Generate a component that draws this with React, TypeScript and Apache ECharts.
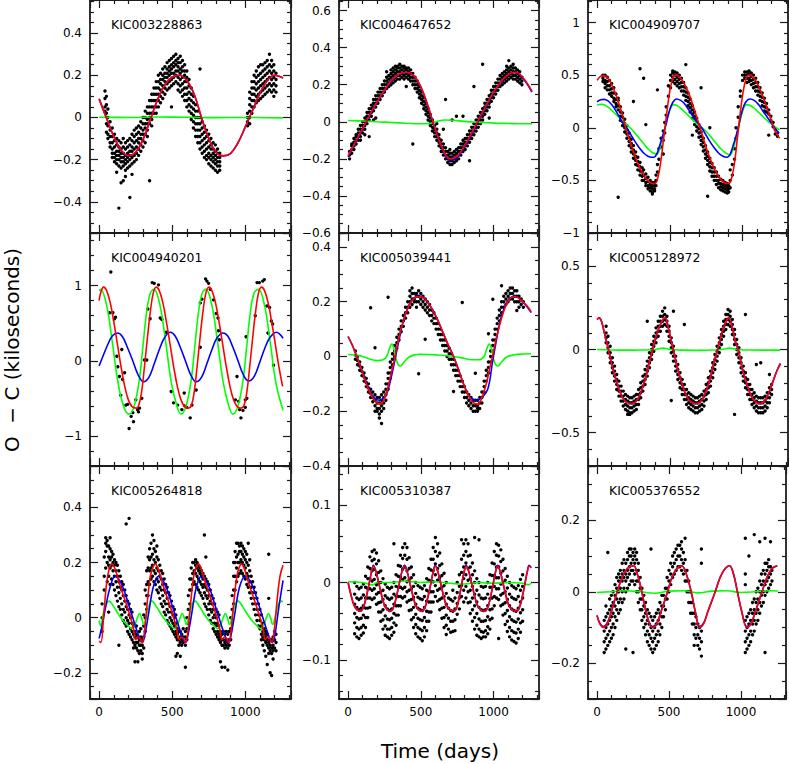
import React, { useEffect, useRef } from "react";
import * as echarts from "echarts";

// ---------- panel names ----------
const NAMES = ["KIC003228863", "KIC004647652", "KIC004909707", "KIC004940201", "KIC005039441", "KIC005128972", "KIC005264818", "KIC005310387", "KIC005376552"];
const X_TITLE = "Time (days)";
const Y_TITLE = "O  \u2212 C (kiloseconds)";

// ---------- Panel 1: KIC003228863 ----------
const P1_RED = [[0,.088],[50,-.003],[100,-.09],[150,-.155],[200,-.181],[250,-.165],[300,-.105],[350,-.01],[400,.085],[450,.155],[500,.192],[550,.2],[600,.175],[650,.11],[700,0],[750,-.1],[800,-.165],[850,-.182],[900,-.17],[950,-.12],[1000,-.045],[1050,.035],[1100,.115],[1150,.175],[1200,.2],[1258,.187]];
const P1_BLUE = [[0,.088],[50,-.003],[100,-.09],[150,-.155],[200,-.181],[250,-.165],[300,-.105],[350,-.01],[400,.085],[450,.155],[500,.192],[550,.2],[600,.175],[650,.11],[700,0],[750,-.1],[800,-.165],[850,-.182],[900,-.17],[950,-.12],[1000,-.045],[1050,.035],[1100,.115],[1150,.175],[1200,.2],[1258,.187]];
const P1_GREEN = [[0,.001],[200,0],[400,.002],[600,.001],[800,-.001],[1000,0],[1258,-.002]];
const P1_DOTS = [
[40,.125,.09,.05,.03],[50,.1,.06,.02,-.03,-.07],[60,.04,0,-.04,-.08,-.1],[75,-.02,-.06,-.09,-.12,-.14],
[90,-.05,-.09,-.12,-.15,-.17,-.19],[105,-.08,-.11,-.14,-.17,-.19,-.21],[120,-.1,-.13,-.16,-.18,-.2,-.22,-.26],
[135,-.11,-.14,-.16,-.18,-.2,-.23,-.43],[150,-.12,-.15,-.17,-.19,-.21,-.24,-.31],[165,-.1,-.14,-.17,-.19,-.21,-.23,-.3],
[180,-.12,-.15,-.18,-.2,-.22,-.25,-.28],[195,-.11,-.14,-.17,-.19,-.21,-.24],[210,-.1,-.13,-.16,-.18,-.2,-.23,-.38],
[225,-.08,-.11,-.14,-.16,-.19,-.22,-.27],[240,-.06,-.09,-.12,-.15,-.18,-.21],[255,-.05,-.08,-.11,-.14,-.17,-.2],
[270,-.04,-.07,-.1,-.12,-.15,-.18],[285,-.02,-.05,-.08,-.1,-.13,-.16],[300,0,-.03,-.06,-.08,-.11,-.14],
[315,.03,0,-.03,-.05,-.08,-.12],[330,.05,.02,-.01,-.03,-.06,-.09],[345,.08,.05,.02,0,-.03,-.3],
[360,.11,.08,.05,.02,-.01,-.04],[375,.14,.11,.08,.05,.02],[390,.17,.14,.11,.08,.05,.02],[405,.2,.17,.14,.11,.08,.05],
[420,.21,.18,.16,.13,.1,.07],[435,.23,.2,.18,.15,.12,.09],[450,.24,.21,.19,.17,.14,.11],[465,.26,.23,.21,.19,.16,.13],
[480,.27,.24,.22,.2,.17,.14],[495,.28,.25,.23,.21,.18,.15,.05],[510,.29,.26,.24,.21,.19,.16],[525,.3,.27,.25,.22,.2,.17],
[540,.28,.26,.24,.22,.19,.16,.13],[555,.29,.26,.23,.21,.18,.15,.12],[570,.27,.24,.22,.19,.16,.13,.1],
[585,.25,.22,.2,.17,.14,.11,.08],[600,.22,.19,.17,.14,.11,.08,.05],[615,.18,.15,.12,.09,.06,.03],
[630,.14,.11,.08,.05,.02,-.01],[645,.1,.07,.04,.01,-.02,-.05],[660,.06,.03,0,-.03,-.06,-.09],
[675,.03,0,-.03,-.06,-.09,-.12],[690,.23,0,-.03,-.06,-.09,-.12,-.15],[705,-.02,-.05,-.08,-.11,-.14,-.17],
[720,-.04,-.07,-.1,-.13,-.16,-.19],[735,-.06,-.09,-.12,-.15,-.18,-.2],[750,-.08,-.11,-.14,-.17,-.19,-.22],
[765,-.1,-.13,-.15,-.18,-.2,-.23],[780,-.12,-.15,-.17,-.19,-.21,-.24],[795,-.13,-.16,-.18,-.2,-.22,-.25],
[810,-.15,-.17,-.19,-.21,-.23,-.26],[825,-.17,-.19,-.21,-.23,-.25],
[1015,-.04,-.02,0,.02],[1030,0,.03,.06,.09,.12,-.03],[1045,.02,.05,.08,.11,.14,.17],[1060,.05,.08,.11,.14,.17,.2],
[1075,.07,.1,.13,.16,.19,.22],[1090,.08,.11,.14,.17,.2,.24],[1105,.09,.12,.15,.18,.21,.25],[1120,.1,.13,.16,.19,.22,.25],
[1135,.11,.14,.17,.2,.23,.26],[1150,.12,.15,.18,.21,.24,.27],[1165,.13,.16,.19,.22,.25,.3],[1180,.12,.15,.18,.21,.24,.27],
[1195,.1,.13,.16,.19,.22,.25],[1210,.12,.15,.18,.21]
];

// ---------- Panel 2: KIC004647652 ----------
const P2_RED = [[0,-.183],[50,-.11],[100,-.035],[150,.04],[200,.11],[250,.17],[300,.225],[350,.258],[400,.267],[450,.25],[500,.19],[550,.085],[600,-.04],[650,-.145],[700,-.2],[750,-.185],[800,-.13],[850,-.06],[900,.015],[950,.09],[1000,.16],[1050,.215],[1100,.255],[1150,.267],[1200,.24],[1264,.165]];
const P2_BLUE = [[0,-.19],[50,-.115],[100,-.04],[150,.036],[200,.106],[250,.166],[300,.222],[350,.256],[400,.266],[450,.248],[500,.186],[550,.08],[600,-.046],[650,-.152],[700,-.208],[750,-.192],[800,-.136],[850,-.066],[900,.01],[950,.085],[1000,.156],[1050,.212],[1100,.253],[1150,.266],[1200,.236],[1264,.16]];
const P2_GREEN = [[0,.007],[100,.004],[200,0],[300,-.004],[400,-.008],[500,-.011],[570,-.008],[620,.004],[660,.01],[720,.008],[800,.002],[900,-.003],[1000,-.007],[1100,-.009],[1200,-.011],[1264,-.011]];
const P2_DOTS = [
[10,-.2,-.18,-.16],[25,-.17,-.15,-.13,-.12],[40,-.15,-.13,-.11,-.09],[55,-.12,-.1,-.08,-.07],[70,-.1,-.08,-.06,-.04],
[85,-.08,-.06,-.04,-.02,-.1],[100,-.06,-.04,-.02,0],[115,-.04,-.02,0,.02,-.07],[130,-.01,.01,.03,.05],
[145,.01,.03,.05,.07,-.08],[160,.03,.05,.07,.09],[175,.06,.08,.1,.12,.01],[190,.08,.1,.12,.14,.02],
[205,.1,.12,.14,.16],[220,.12,.14,.16,.18],[235,.14,.16,.18,.2],[250,.16,.18,.2,.22],[265,.18,.2,.22,.24,.27],
[280,.19,.21,.23,.25],[295,.2,.22,.24,.26,.28],[310,.21,.23,.25,.27,.29],[325,.22,.24,.26,.28,.3],
[340,.23,.25,.27,.29,.3],[355,.23,.25,.27,.29,.31],[370,.24,.26,.28,.3],[385,.23,.25,.27,.29,.3],
[400,.24,.26,.28,.29,.19],[415,.23,.25,.27,.29],[430,.22,.24,.26,.28],[445,.2,.22,.24,.26,-.12],
[460,.18,.2,.22,.24],[475,.16,.18,.2,.22],[490,.13,.15,.17,.19],[505,.1,.12,.14,.16],[520,.07,.09,.11,.13],
[535,.04,.06,.08,.1],[550,.01,.03,.05,.07],[565,-.02,0,.02,.04],[580,-.05,-.03,-.01,.01],[595,-.08,-.06,-.04,-.02],
[610,-.1,-.08,-.06,-.04,-.01],[625,-.13,-.11,-.09,-.07],[640,-.16,-.14,-.12,-.1],[655,-.18,-.16,-.14,-.12,-.04],
[670,-.2,-.18,-.16,-.14,.12],[685,-.22,-.2,-.18,-.16],[700,-.23,-.21,-.19,-.17,-.15],[715,-.23,-.21,-.19,-.17,.01],
[730,-.22,-.2,-.18,-.16],[745,-.21,-.19,-.17,-.15,.03],[760,-.2,-.18,-.16,-.14],[775,-.18,-.16,-.14,-.12],
[790,-.16,-.14,-.12,-.1,.03],[805,-.15,-.13,-.11,-.09],[820,-.13,-.11,-.09,-.07],[835,-.11,-.09,-.07,-.05,-.21],
[850,-.09,-.07,-.05,-.03],[865,-.07,-.05,-.03,-.01,.19],[880,-.05,-.03,-.01,.01],[895,-.03,-.01,.01,.03],
[910,-.01,.01,.03,.05],[925,.01,.03,.05,.07,.31],[940,.04,.06,.08,.1],[955,.06,.08,.1,.12],[970,.08,.1,.12,.14,.02],
[985,.11,.13,.15,.17],[1000,.13,.15,.17,.19],[1015,.15,.17,.19,.21],[1030,.17,.19,.21,.23],[1045,.19,.21,.23,.25],
[1060,.2,.22,.24,.26],[1075,.21,.23,.25,.27],[1090,.22,.24,.26,.28,.3],[1105,.23,.25,.27,.29,.33],
[1120,.24,.26,.28,.3],[1135,.23,.25,.27,.29,.31],[1150,.23,.25,.27,.29],[1165,.22,.24,.26,.28],
[1180,.21,.23,.25,.27],[1195,.2,.22,.24]
];

// ---------- Panel 3: KIC004909707 ----------
const P3_RED = [[0,.45],[25,.49],[45,.497],[75,.47],[100,.41],[125,.33],[150,.23],[175,.12],[200,-.02],[225,-.12],[250,-.23],[275,-.32],[300,-.4],[325,-.46],[350,-.505],[375,-.528],[398,-.53],[420,-.46],[440,-.3],[455,-.13],[467,0],[480,.15],[500,.35],[520,.47],[537,.5],[560,.49],[585,.45],[610,.39],[635,.31],[660,.21],[685,.1],[710,-.01],[735,-.12],[760,-.23],[785,-.32],[810,-.4],[835,-.46],[860,-.505],[885,-.528],[906,-.53],[928,-.46],[948,-.3],[962,-.13],[973,0],[985,.15],[1005,.35],[1025,.47],[1042,.5],[1065,.49],[1090,.45],[1115,.38],[1140,.3],[1165,.2],[1190,.1],[1215,0],[1240,-.07],[1256,-.1]];
const P3_BLUE = [[0,.245],[25,.265],[48,.27],[75,.255],[100,.22],[125,.17],[150,.11],[175,.05],[204,0],[230,-.06],[260,-.13],[290,-.19],[320,-.24],[350,-.27],[375,-.28],[391,-.28],[410,-.25],[430,-.17],[450,-.08],[474,.03],[495,.15],[520,.24],[547,.274],[575,.26],[600,.23],[630,.17],[660,.11],[690,.05],[719,0],[745,-.06],[775,-.13],[805,-.19],[835,-.24],[865,-.27],[895,-.28],[915,-.25],[935,-.17],[955,-.08],[975,.03],[995,.15],[1020,.24],[1050,.274],[1080,.26],[1110,.22],[1140,.16],[1170,.1],[1200,.04],[1225,-.01],[1252,-.053]];
const P3_GREEN = [[0,.214],[32,.223],[60,.21],[90,.18],[120,.14],[150,.1],[180,.06],[210,.02],[227,0],[260,-.05],[290,-.1],[320,-.15],[350,-.2],[380,-.235],[410,-.25],[430,-.2],[450,-.1],[470,.02],[490,.13],[510,.2],[524,.22],[550,.21],[580,.18],[610,.14],[640,.1],[670,.06],[700,.02],[730,-.01],[760,-.05],[790,-.1],[820,-.15],[850,-.2],[880,-.235],[913,-.26],[935,-.2],[955,-.1],[975,.02],[995,.13],[1012,.2],[1027,.22],[1055,.21],[1085,.18],[1115,.14],[1145,.1],[1175,.06],[1205,.03],[1230,0],[1256,-.02]];
const P3_DOTS = [
[40,.5,.47,.44],[55,.5,.45,.42,.38],[70,.48,.44,.4,.36],[85,.45,.4,.36,.32],[100,.42,.37,.33,.3],[115,.38,.33,.28,.25],
[130,.32,.27,.23,.2],[145,.26,.21,.17,.28,-.66],[160,.2,.15,.11,.07],[175,.14,.1,.06,.02],[190,.08,.04,0,-.04],
[205,.02,-.02,-.06,-.1],[220,-.05,-.09,-.13,-.17],[235,-.11,-.15,-.19,-.23],[250,-.17,-.21,-.25,-.29,.25],
[265,-.23,-.27,-.31,-.35],[280,-.28,-.32,-.36,-.4],[295,-.33,-.37,-.41,-.45,.56],[310,-.38,-.42,-.46,-.5],
[320,.47,-.4,-.45,-.5],[335,-.44,-.48,-.52,-.55,.03],[350,-.47,-.51,-.55,-.58],[365,-.5,-.54,-.57,-.6],
[380,-.52,-.55,-.58,-.61,-.63],[395,-.52,-.55,-.58,-.6],[405,-.45,-.5,-.55],[415,-.35,-.42,.36],[425,-.3,-.2],
[440,-.18,-.1],[455,-.25,-.12,-.03],[465,-.05,.05],[475,.12,.2],[490,.3,.4],[505,.38,.45,.5],
[520,.52,.48,.44,.54],[535,.53,.5,.46,.42],[550,.52,.48,.44,.4],[565,.5,.46,.42,.38],[580,.47,.43,.39,.35],
[595,.43,.39,.35,.31],[610,.38,.34,.3,.26,.6],[625,.33,.29,.25,.21],[640,.27,.23,.19,.15],[655,.21,.17,.13,.09,-.07],
[670,.15,.11,.07,.03],[685,.09,.05,.01,-.03],[700,.03,-.01,-.05,-.09],[715,-.04,-.08,-.12,-.16,.38],
[730,-.1,-.14,-.18,-.22],[745,-.17,-.21,-.25,-.29],[760,-.23,-.27,-.31,-.35,-.65],[775,-.29,-.33,-.37,-.41,0],
[790,-.34,-.38,-.42,-.46],[805,-.38,-.42,-.46,-.5],[820,-.42,-.46,-.5,-.54],[835,-.46,-.5,-.53,-.57],
[850,-.49,-.53,-.56,-.59],[865,-.5,-.54,-.57,-.6],[880,-.52,-.55,-.58,-.61],[895,-.53,-.56,-.59,-.62],
[905,-.55,-.58,-.61],[915,-.4,-.5,-.57],[930,-.35,-.45],[945,-.2,-.3],[955,-.1,0],[970,.1,.2],[985,.3,.35],
[1000,.45,.5],[1015,.5,.53,.47],[1030,.53,.5,.47,.43],[1045,.54,.51,.47,.44],[1060,.52,.49,.45,.41],
[1075,.5,.46,.42,.38],[1090,.47,.43,.39,.35],[1105,.43,.39,.35,.31],[1120,.38,.34,.3,.26],[1135,.33,.29,.25,.21],
[1150,.28,.24,.2,.16],[1165,.23,.19,.15],[1180,.17,.13,-.07],[1195,.11,.07],[1210,.05,.01],[1225,-.02,-.06],[1240,-.05,-.08]
];

// ---------- Panel 4: KIC004940201 ----------
const P4_RED = [[0,.8],[10,.9],[30,.98],[50,.94],[75,.78],[100,.52],[125,.22],[150,-.08],[175,-.34],[200,-.52],[225,-.61],[255,-.63],[270,-.6],[290,-.42],[310,-.08],[330,.3],[350,.65],[370,.9],[390,.98],[410,.94],[435,.78],[460,.52],[485,.22],[510,-.08],[535,-.34],[560,-.52],[585,-.61],[610,-.63],[630,-.6],[650,-.42],[670,-.08],[690,.3],[710,.65],[730,.9],[750,.98],[770,.94],[795,.78],[820,.52],[845,.22],[870,-.08],[895,-.34],[920,-.52],[945,-.61],[970,-.63],[990,-.6],[1010,-.42],[1030,-.08],[1050,.3],[1070,.65],[1090,.9],[1110,.98],[1130,.94],[1155,.78],[1180,.52],[1205,.22],[1230,-.08],[1255,-.34]];
const P4_BLUE = [[0,-.07],[30,.08],[60,.22],[90,.33],[126,.37],[160,.32],[195,.17],[230,0],[265,-.18],[304,-.28],[340,-.22],[375,-.05],[410,.14],[445,.3],[486,.38],[520,.33],[555,.18],[590,0],[625,-.18],[664,-.28],[700,-.22],[735,-.05],[770,.14],[805,.3],[847,.37],[880,.33],[915,.18],[950,0],[985,-.18],[1023,-.27],[1060,-.21],[1095,-.04],[1130,.15],[1165,.3],[1212,.38],[1258,.3]];
const P4_GREEN = [[0,.93],[10,.95],[50,.75],[90,.25],[130,-.3],[170,-.62],[205,-.71],[240,-.6],[275,-.25],[300,.2],[325,.65],[350,.9],[375,.95],[415,.75],[455,.25],[495,-.3],[535,-.62],[560,-.71],[595,-.6],[630,-.25],[655,.2],[680,.65],[705,.9],[730,.95],[770,.75],[810,.25],[850,-.3],[890,-.62],[915,-.71],[950,-.6],[985,-.25],[1010,.2],[1035,.65],[1060,.9],[1090,.95],[1130,.75],[1170,.25],[1210,-.3],[1258,-.66]];
const P4_DOTS = [
[80,1.18],[71,.64],[94,.64],[105,.56],[121,.06],[128,-.08],[139,-.21],[155,.15],[174,-.16],[148,-.46],[183,-.59],
[205,-.9],[219,-.74],[230,-.69],[235,-.81],[251,-.52],[263,-.65],[269,-.68],[276,-.63],[292,-.5],[310,.01],[326,.01],
[333,.69],[349,.56],[363,1.04],[377,1.03],[406,1.01],[418,.57],[429,.55],[459,.38],[493,-.41],[509,-.56],[537,-.59],
[566,-.65],[582,-.43],[623,-.76],[635,-.59],[664,-.39],[692,.18],[692,.77],[703,.82],[728,1.09],[737,1.06],[749,1.03],
[760,.95],[783,.81],[801,.63],[813,.57],[817,.4],[822,.28],[943,-.21],[932,-.52],[954,-.54],[961,-.65],[970,-.76],
[984,-.66],[1000,-.52],[1011,-.5],[1005,.32],[1068,.6],[1080,1.04],[1096,1.04],[1119,1.06],[1130,1.08],[1148,.73],
[1166,.71],[1178,.53],[1187,.49],[1155,.37],[1193,-.06],[112,.58],[160,-.25],[195,-.58],[585,-.6],[600,-.62],[1000,-.62]
];

// ---------- Panel 5: KIC005039441 ----------
const P5_RED = [[0,.073],[30,.04],[60,0],[100,-.06],[140,-.12],[180,-.16],[200,-.17],[220,-.173],[245,-.16],[270,-.12],[295,-.065],[323,0],[350,.07],[380,.13],[410,.175],[440,.205],[470,.217],[491,.219],[530,.21],[570,.18],[610,.14],[650,.09],[690,.04],[725,0],[760,-.05],[800,-.11],[840,-.155],[870,-.172],[892,-.174],[920,-.15],[950,-.1],[975,-.04],[993,0],[1020,.07],[1050,.13],[1080,.18],[1110,.21],[1149,.219],[1190,.205],[1230,.185],[1259,.163]];
const P5_BLUE = [[0,.073],[30,.04],[60,0],[100,-.058],[140,-.115],[180,-.152],[215,-.16],[245,-.152],[270,-.13],[295,-.08],[323,-.01],[350,.06],[380,.13],[410,.178],[440,.207],[470,.219],[491,.221],[530,.21],[570,.18],[610,.14],[650,.09],[690,.04],[725,0],[760,-.05],[800,-.108],[840,-.15],[885,-.16],[920,-.15],[960,-.12],[993,-.02],[1020,.06],[1050,.14],[1080,.185],[1110,.212],[1149,.221],[1190,.205],[1230,.182],[1259,.16]];
const P5_GREEN = [[0,.007],[50,.005],[100,0],[150,-.01],[200,-.015],[240,-.012],[265,0],[285,.03],[300,.045],[315,.03],[330,-.01],[345,-.03],[360,-.035],[385,-.02],[420,-.002],[460,.006],[500,.008],[600,.006],[700,.002],[780,-.005],[850,-.012],[900,-.012],[935,0],[955,.03],[970,.045],[985,.03],[1000,-.01],[1015,-.03],[1030,-.035],[1055,-.02],[1090,-.002],[1150,.007],[1200,.009],[1258,.01]];
const P5_DOTS = [
[50,.02,.005,-.01],[65,0,-.015,-.03],[80,-.02,-.035,-.05],[95,-.04,-.055,-.07],[110,-.06,-.075,-.09],
[125,-.08,-.095,-.11],[140,-.1,-.115,-.13],[155,-.12,-.135,-.15,.178],[170,-.13,-.15,-.165],[185,-.14,-.16,-.18,-.2,.032],
[200,-.15,-.17,-.19,-.2],[215,-.15,-.17,-.19,-.21,-.225],[230,-.14,-.16,-.18,-.2,-.245],[245,-.13,-.15,-.17,-.19],
[260,-.1,-.12,-.14,-.16],[275,-.06,-.08,-.1,-.12,.216],[290,-.02,-.04,-.06,-.08],[305,.01,-.01,-.03],[320,.04,.02,0],
[335,.07,.05,.03],[350,.1,.08,.06],[365,.13,.11,.09],[380,.15,.13,.11],[395,.18,.16,.14],[410,.2,.18,.16],
[425,.22,.2,.18,.24],[440,.23,.21,.19,.25],[455,.23,.21,.2],[470,.23,.22,.2,.18],[485,.24,.22,.2,-.063],
[500,.23,.21,.19],[515,.22,.2,.18],[530,.21,.19,.17,.063],[545,.2,.18,.16],[560,.19,.17,.15],[575,.17,.15,.13],
[590,.16,.14,.12],[605,.14,.12,.1],[620,.12,.1,.08],[635,.1,.08,.06],[650,.08,.06,.04],[665,.06,.04,.02],
[680,.04,.02,0],[695,.03,.01,-.01],[710,.01,-.01,-.03],[725,-.01,-.03,-.05,-.128],[740,-.03,-.05,-.07],
[755,-.05,-.07,-.09],[770,-.07,-.09,-.11],[785,-.09,-.11,-.13,.197],[800,-.11,-.13,-.15],[815,-.13,-.15,-.17],
[830,-.14,-.16,-.18],[845,-.15,-.17,-.19],[860,-.16,-.18,-.2],[875,-.16,-.18,-.2,-.061],[890,-.16,-.18,-.2,-.19],
[905,-.15,-.17,-.19],[920,-.13,-.15,-.17],[935,-.09,-.11,-.13],[950,-.05,-.07,-.09],[965,-.02,-.04,-.06,.083],
[980,.02,0,-.02],[995,.06,.04,.02,.209],[1010,.1,.08,.06],[1025,.14,.12,.1],[1040,.17,.15,.13],[1055,.2,.18,.16,.258],
[1070,.22,.2,.18],[1085,.23,.21,.19],[1100,.24,.22,.2],[1115,.25,.23,.21],[1130,.25,.23,.21],[1145,.24,.22,.2],
[1160,.24,.22,.2,.168],[1175,.22,.2,.18],[1190,.21,.19],[1205,.2,.18]
];

// ---------- Panel 6: KIC005128972 ----------
const P6_RED = [[0,.18],[14,.19],[30,.17],[50,.1],[78,0],[110,-.12],[140,-.21],[170,-.28],[200,-.315],[238,-.326],[270,-.31],[300,-.26],[330,-.18],[355,-.09],[382,0],[410,.09],[440,.16],[467,.19],[490,.13],[510,.05],[524,0],[555,-.12],[585,-.21],[615,-.28],[645,-.315],[684,-.326],[715,-.31],[745,-.26],[775,-.18],[800,-.09],[828,0],[855,.09],[882,.16],[906,.19],[930,.13],[950,.05],[970,0],[1000,-.12],[1030,-.21],[1060,-.28],[1090,-.315],[1119,-.326],[1150,-.31],[1180,-.26],[1210,-.19],[1240,-.12],[1261,-.084]];
const P6_BLUE = [[0,.18],[14,.19],[30,.17],[50,.1],[78,0],[110,-.12],[140,-.21],[170,-.28],[200,-.315],[238,-.326],[270,-.31],[300,-.26],[330,-.18],[355,-.09],[382,0],[410,.09],[440,.16],[467,.19],[490,.13],[510,.05],[524,0],[555,-.12],[585,-.21],[615,-.28],[645,-.315],[684,-.326],[715,-.31],[745,-.26],[775,-.18],[800,-.09],[828,0],[855,.09],[882,.16],[906,.19],[930,.13],[950,.05],[970,0],[1000,-.12],[1030,-.21],[1060,-.28],[1090,-.315],[1119,-.326],[1150,-.31],[1180,-.26],[1210,-.19],[1240,-.12],[1261,-.084]];
const P6_GREEN = [[0,0],[100,-.003],[200,-.004],[300,-.003],[400,0],[455,.008],[500,0],[600,-.004],[700,-.005],[800,-.003],[860,0],[910,.008],[960,0],[1050,-.003],[1150,-.004],[1258,-.004]];
const P6_DOTS = [
[62,.14,.1,.07,.04],[75,.08,.04,.01,-.02],[90,.02,-.02,-.05,-.08],[105,-.05,-.08,-.11,-.14],[120,-.1,-.13,-.16,-.19],
[135,-.15,-.18,-.21,-.24],[150,-.19,-.22,-.25,-.28],[165,-.22,-.25,-.28,-.31],[180,-.25,-.28,-.31,-.34],
[195,-.27,-.3,-.33,-.36],[210,-.28,-.31,-.34,-.37,-.39],[225,-.29,-.32,-.35,-.38,-.39],[240,-.29,-.32,-.35,-.38],
[255,-.28,-.31,-.34,-.37],[270,-.27,-.3,-.33,-.36],[285,-.24,-.27,-.3,-.33],[300,-.2,-.23,-.26,-.29],
[315,-.16,-.19,-.22,-.25],[330,-.12,-.15,-.18,-.21],[345,-.07,-.1,-.13,-.16,.17],[360,-.02,-.05,-.08,-.11],
[375,.03,0,-.03,-.06],[390,.08,.05,.02,-.01],[405,.13,.1,.07,.04],[420,.17,.14,.11,.08],[435,.2,.17,.14,.11],
[450,.23,.2,.17,.14],[465,.25,.21,.18,.15],[480,.2,.17,.14,.11],[495,.14,.11,.08,.05],[510,.07,.04,.01,-.02,-.306],
[525,.02,-.01,-.04,-.07,.23],[540,-.04,-.07,-.1,-.13],[555,-.09,-.12,-.15,-.18],[570,-.14,-.17,-.2,-.23],
[585,-.18,-.21,-.24,-.27],[600,-.21,-.24,-.27,-.3,.15],[615,-.24,-.27,-.3,-.33],[630,-.26,-.29,-.32,-.35],
[645,-.27,-.3,-.33,-.36],[660,-.28,-.31,-.34,-.37],[675,-.29,-.32,-.35,-.38],[690,-.29,-.32,-.35,-.38],
[705,-.28,-.31,-.34,-.37],[720,-.27,-.3,-.33,-.36],[735,-.25,-.28,-.31,-.34],[750,-.21,-.24,-.27,-.3],
[765,-.17,-.2,-.23,-.26],[780,-.13,-.16,-.19,-.22],[795,-.08,-.11,-.14,-.17],[810,-.03,-.06,-.09,-.12],
[825,.02,-.01,-.04,-.07],[840,.07,.04,.01,-.02],[855,.12,.09,.06,.03],[870,.17,.14,.11,.08],[885,.21,.18,.15,.12],
[900,.24,.21,.18,.15],[915,.23,.2,.17,.14],[930,.18,.15,.12,.09],[945,.12,.09,.06,.03,-.39],[960,.06,.03,0,-.03],
[975,.01,-.02,-.05,-.08],[990,-.05,-.08,-.11,-.14],[1005,-.1,-.13,-.16,-.19],[1020,-.14,-.17,-.2,-.23,.21],
[1035,-.18,-.21,-.24,-.27],[1050,-.21,-.24,-.27,-.3],[1065,-.24,-.27,-.3,-.33],[1080,-.26,-.29,-.32,-.35],
[1095,-.28,-.31,-.34,-.37,-.09],[1110,-.29,-.32,-.35,-.38],[1125,-.29,-.32,-.35,-.38,-.08],[1140,-.29,-.32,-.35,-.38],
[1155,-.28,-.31,-.34,-.37],[1170,-.26,-.29,-.32,-.35],[1185,-.23,-.26,-.29,-.32,-.15],[1200,-.21,-.24,-.27]
];

// ---------- Panel 7: KIC005264818 ----------
const P7_RED = [[0,-.085],[12,-.09],[30,0],[50,.12],[70,.18],[87,.194],[110,.175],[135,.13],[160,.09],[185,.05],[210,.01],[235,-.04],[250,-.08],[265,-.07],[280,-.075],[295,-.09],[310,-.05],[330,.06],[350,.15],[370,.185],[384,.194],[405,.175],[430,.13],[455,.09],[480,.05],[505,.01],[530,-.04],[547,-.08],[562,-.07],[577,-.075],[592,-.09],[607,-.05],[627,.06],[647,.15],[665,.185],[680,.194],[700,.175],[725,.13],[750,.09],[775,.05],[800,.01],[825,-.04],[842,-.08],[857,-.07],[872,-.075],[887,-.09],[902,-.05],[922,.06],[942,.15],[960,.185],[975,.194],[995,.175],[1020,.13],[1045,.09],[1070,.05],[1095,.01],[1120,-.04],[1137,-.08],[1152,-.07],[1167,-.075],[1182,-.09],[1197,-.05],[1217,.06],[1237,.15],[1258,.19]];
const P7_BLUE = [[0,-.075],[20,-.03],[45,.04],[75,.11],[110,.15],[140,.135],[170,.1],[200,.05],[230,0],[260,-.05],[285,-.085],[295,-.09],[310,-.07],[340,.02],[370,.11],[406,.15],[436,.135],[466,.1],[496,.05],[526,0],[556,-.05],[580,-.085],[590,-.09],[605,-.07],[635,.02],[665,.11],[700,.15],[730,.135],[760,.1],[790,.05],[820,0],[850,-.05],[875,-.085],[885,-.09],[900,-.07],[930,.02],[960,.11],[1000,.15],[1030,.135],[1060,.1],[1090,.05],[1120,0],[1150,-.05],[1175,-.085],[1185,-.09],[1200,-.07],[1230,.04],[1258,.135]];
const P7_GREEN = [[0,-.01],[10,-.03],[35,.03],[68,.06],[100,.04],[135,.01],[170,-.015],[200,-.03],[224,-.04],[245,-.025],[262,0],[276,.015],[290,0],[305,-.025],[325,.01],[345,.05],[360,.06],[392,.04],[427,.01],[462,-.015],[492,-.03],[516,-.04],[537,-.025],[554,0],[568,.015],[582,0],[597,-.025],[617,.01],[637,.05],[655,.06],[687,.04],[722,.01],[757,-.015],[787,-.03],[811,-.04],[832,-.025],[849,0],[863,.015],[877,0],[892,-.025],[912,.01],[932,.05],[950,.06],[982,.04],[1017,.01],[1052,-.015],[1082,-.03],[1106,-.04],[1127,-.025],[1144,0],[1158,.015],[1172,0],[1187,-.025],[1207,.01],[1227,.05],[1245,.06],[1258,.058]];
const P7_DOTS = [
[20,-.05,0,.05],[35,.1,.15,.22],[45,.18,.24,.27,.29],[55,.13,.2,.26,.28],[65,.15,.19,.22,.26,.02],
[75,.12,.18,.21,.25,.29],[85,.14,.19,.22,.24],[95,.12,.17,.2,.23],[105,.1,.15,.19,.21],[115,.08,.13,.17,.2],
[125,.06,.11,.15,.19],[135,.04,.09,.13,.17,-.1],[145,.03,.07,.11,.15],[155,.01,.05,.1,.13],[165,-.01,.03,.08,.12],
[175,-.02,.02,.06,.1],[185,-.03,0,.04,.08,.34],[195,-.05,-.01,.03,.06],[205,-.06,-.02,.01,.05,.36],
[215,-.07,-.04,0,.03],[225,-.08,-.05,-.02,.02],[235,-.09,-.06,-.03,-.11],[245,-.1,-.07,-.05,-.16],
[255,-.11,-.09,-.06,-.03],[265,-.12,-.09,-.07,-.16],[275,-.13,-.1,-.08,-.05],[285,-.12,-.1,-.07,-.04],
[295,-.13,-.1,-.08,-.15],[305,-.11,-.07,-.03,.01],[315,-.05,0,.05,.1],[325,.03,.08,.12,.17],[335,.08,.13,.18,.22],
[345,.12,.17,.21,.25],[355,.14,.18,.22,.27],[365,.15,.19,.23,.3],[375,.13,.17,.21,.25,.28],[385,.12,.16,.2,.24],
[395,.1,.14,.18,.22,.26],[405,.09,.13,.17,.21],[415,.07,.11,.15,.19],[425,.05,.1,.14,.17],[435,.04,.08,.12,.16],
[445,.02,.06,.1,.14],[455,.01,.05,.09,.12],[465,-.01,.03,.07,.11],[475,-.02,.02,.05,.09],[485,-.03,0,.04,.08],
[495,-.04,-.01,.02,.06],[505,-.05,-.02,.01,.04],[515,-.06,-.03,0,.03],[525,-.07,-.05,-.02,.01,-.14],
[535,-.08,-.06,-.04,-.13],[545,-.1,-.08,-.05],[555,-.09,-.07,-.05,-.14],[565,-.1,-.08,-.06],[575,-.09,-.07,-.04],
[590,-.1,-.07,-.05,-.18],[600,-.08,-.04,0],[610,-.02,.03,.08],[620,.05,.1,.14],[630,.1,.14,.18],[640,.12,.16,.2],
[650,.13,.17,.2],[660,.12,.16,.19,.21],[670,.11,.15,.18,.2],[680,.1,.14,.17,.19],[690,.09,.13,.16,.18],
[700,.08,.12,.15,.17],[710,.07,.11,.14,.16],[720,.05,.09,.12,.15,.3],[730,.04,.08,.11,.14,.22],[740,.03,.07,.1,.13],
[750,.01,.05,.08,.12],[760,-.01,.03,.06,.1],[770,-.02,.02,.05,.08],[780,-.04,0,.03,.07],[790,-.05,-.02,.01,.05],
[800,-.06,-.03,0,.03],[810,-.07,-.05,-.02,.02],[820,-.08,-.06,-.03,.01],[830,-.09,-.07,-.05,-.16],
[840,-.1,-.08,-.06,-.18],[850,-.1,-.08,-.05],[860,-.11,-.09,-.06,-.18],[870,-.1,-.08,-.05],[880,-.11,-.09,-.06,-.19],
[890,-.1,-.08,-.05],[900,-.08,-.04,0],[910,-.02,.03,.08],[920,.05,.1,.15,.2],[930,.1,.15,.2,.24],[940,.13,.18,.22,.27],
[950,.15,.2,.23,.27],[960,.16,.2,.24,.26],[970,.17,.21,.24,.27],[980,.16,.2,.23,.26],[990,.15,.19,.22,.25],
[1000,.14,.18,.21,.24],[1010,.12,.16,.2,.23],[1020,.11,.15,.19,.27],[1030,.09,.13,.17,.21],[1040,.07,.11,.15],
[1050,.05,.09,.13],[1060,.03,.07,.11],[1070,.01,.05,.09],[1080,-.01,.03,.07],[1090,-.03,.01,.05],[1100,-.04,-.01,.03],
[1110,-.06,-.03,.01,-.08],[1120,-.07,-.05,-.02,-.1],[1130,-.08,-.06,-.04,-.12],[1140,-.09,-.07,-.05,-.14],
[1150,-.1,-.08,-.06,-.17],[1160,-.11,-.09,-.13,.07,.23],[1170,-.12,-.1,-.08,-.2],[1180,-.13,-.11,-.08,-.21],
[1190,-.12,-.1,-.07,-.15],[1200,-.11,-.08,-.05],[1210,-.09,-.06,-.12]
];

// ---------- Panel 8: KIC005310387 ----------
const P8_RED = [[0,0],[20,-.016],[40,-.029],[60,-.035],[83,-.037],[103,-.033],[123,-.02],[143,-.003],[160,.013],[174,.021],[192,.014],[210,0],[230,-.016],[250,-.029],[270,-.035],[289,-.037],[310,-.033],[330,-.02],[350,-.003],[370,.014],[388,.021],[406,.014],[424,0],[444,-.016],[464,-.029],[484,-.035],[507,-.037],[527,-.033],[547,-.02],[567,-.003],[584,.013],[599,.021],[617,.014],[635,0],[655,-.016],[675,-.029],[700,-.035],[725,-.037],[745,-.033],[763,-.02],[780,-.003],[797,.013],[812,.021],[830,.014],[848,0],[868,-.016],[888,-.029],[910,-.035],[938,-.037],[958,-.033],[978,-.02],[996,-.003],[1013,.013],[1028,.021],[1046,.014],[1064,0],[1084,-.016],[1104,-.029],[1128,-.035],[1156,-.037],[1176,-.033],[1196,-.02],[1214,-.003],[1231,.013],[1245,.021],[1259,.019]];
const P8_BLUE = [[0,0],[20,-.016],[40,-.029],[60,-.035],[83,-.037],[103,-.033],[123,-.02],[143,-.003],[160,.013],[174,.022],[192,.014],[210,0],[230,-.016],[250,-.029],[270,-.035],[289,-.037],[310,-.033],[330,-.02],[350,-.003],[370,.014],[388,.022],[406,.014],[424,0],[444,-.016],[464,-.029],[484,-.035],[507,-.037],[527,-.033],[547,-.02],[567,-.003],[584,.013],[599,.022],[617,.014],[635,0],[655,-.016],[675,-.029],[700,-.035],[725,-.037],[745,-.033],[763,-.02],[780,-.003],[797,.013],[812,.022],[830,.014],[848,0],[868,-.016],[888,-.029],[910,-.035],[938,-.037],[958,-.033],[978,-.02],[996,-.003],[1013,.013],[1028,.022],[1046,.014],[1064,0],[1084,-.016],[1104,-.029],[1128,-.035],[1156,-.037],[1176,-.033],[1196,-.02],[1214,-.003],[1231,.013],[1245,.022],[1259,.019]];
const P8_GREEN = [[0,.001],[100,0],[170,-.003],[200,0],[300,0],[390,.002],[500,0],[600,.001],[700,-.001],[800,-.002],[900,0],[1000,-.001],[1100,0],[1200,-.001],[1240,-.003],[1259,-.001]];
const P8_DOTS = [
[45,0,-.015,-.028,-.04,-.052,-.066],[60,-.005,-.02,-.032,-.045,-.058,-.07],[75,-.008,-.022,-.035,-.047,-.06,-.072],
[90,-.006,-.02,-.033,-.046,-.058,-.068],[105,-.002,-.016,-.03,-.042,-.055,-.065],[120,.008,-.006,-.02,-.033,-.045,-.058],
[135,.02,.005,-.008,-.02,-.033,-.045],[150,.033,.018,.005,-.008,-.02,-.032],[165,.04,.028,.015,.002,-.01,-.022],
[180,.042,.03,.017,.004,-.008,-.02],[195,.038,.024,.01,-.003,-.015,-.028],[210,.028,.013,0,-.013,-.026,-.038],
[225,.015,0,-.012,-.025,-.038,-.05],[240,.005,-.01,-.022,-.035,-.048,-.06],[255,-.002,-.017,-.03,-.043,-.056,-.068],
[270,-.006,-.02,-.034,-.047,-.06,-.07],[285,-.008,-.022,-.036,-.048,-.06,-.072],[300,-.006,-.02,-.034,-.046,-.058,-.068],
[315,0,-.015,-.028,-.04,-.052,-.064,.05],[330,.01,-.005,-.018,-.03,-.042,-.055],[345,.022,.008,-.006,-.018,-.03,-.042],
[360,.035,.021,.007,-.006,-.018,-.03],[375,.045,.031,.017,.004,-.008,-.02],[390,.05,.035,.02,.006,-.006,-.018],
[405,.045,.03,.015,.001,-.012,-.025],[420,.032,.018,.004,-.01,-.023,-.036],[435,.02,.006,-.008,-.022,-.035,-.048],
[450,.01,-.005,-.019,-.032,-.045,-.058],[465,0,-.014,-.028,-.041,-.054,-.066],[480,-.004,-.019,-.033,-.046,-.058,-.07],
[495,-.006,-.021,-.035,-.048,-.06,-.072],[510,-.008,-.022,-.036,-.049,-.062,-.075],[525,-.004,-.018,-.032,-.045,-.058,-.07],
[540,.005,-.01,-.024,-.037,-.05,-.062],[555,.018,.003,-.012,-.025,-.038,-.05],[570,.03,.016,.002,-.012,-.025,-.038],
[585,.045,.03,.015,.001,-.012,-.025],[600,.058,.04,.024,.01,-.004,-.018],[615,.05,.034,.018,.003,-.01,-.024],
[630,.038,.022,.006,-.008,-.022,-.035],[645,.024,.009,-.006,-.02,-.033,-.046],[660,.012,-.004,-.018,-.032,-.045,-.058],
[675,0,-.014,-.028,-.042,-.055,-.067],[690,-.02,-.033,-.046,-.06],[705,-.022,-.036,-.05,-.064],
[720,-.01,-.024,-.037,-.05,-.063],[735,-.02,-.034,-.048,-.062],[750,0,-.013,-.027,-.041],[765,.01,-.005,-.02,-.034],
[780,.055,.03,.013,-.004,-.018],[795,.05,.035,.02,.005,-.01,-.025],[810,.055,.04,.025,.01,-.005,-.02],
[825,.05,.034,.018,.003,-.012,-.026],[840,.035,.02,.005,-.01,-.025,-.04],[855,.025,.01,-.005,-.02,-.035,-.05],
[870,.015,0,-.015,-.03,-.045,-.06,.058],[885,.005,-.01,-.025,-.04,-.055,-.068],[900,0,-.016,-.032,-.047,-.06,-.07,.055],
[915,-.005,-.02,-.035,-.05,-.063,-.072],[930,-.006,-.021,-.036,-.05,-.064,-.07],[945,-.005,-.02,-.035,-.049,-.062,-.07],
[960,0,-.015,-.03,-.044,-.057,-.066],[975,.01,-.006,-.021,-.035,-.048,-.06],[990,.025,.009,-.006,-.02,-.034,-.046],
[1005,.04,.024,.009,-.005,-.018,-.03],[1020,.05,.035,.02,.006,-.008,-.02],[1035,.048,.034,.02,.006,-.008,-.022,-.072],
[1050,.042,.027,.012,-.002,-.016,-.03],[1065,.03,.015,0,-.014,-.028,-.042],[1080,.018,.003,-.012,-.026,-.04,-.054],
[1095,.008,-.007,-.022,-.036,-.05,-.063],[1110,0,-.015,-.03,-.044,-.058,-.07],[1125,-.004,-.019,-.034,-.048,-.062,-.074],
[1140,-.006,-.021,-.036,-.05,-.064,-.076],[1155,-.008,-.022,-.037,-.051,-.065,-.078],[1170,-.004,-.018,-.033,-.047,-.06,-.072],
[1185,.004,-.01,-.025,-.039,-.052,-.064],[1200,.01,-.005,-.02,-.035,-.05]
];

// ---------- Panel 9: KIC005376552 ----------
const P9_RED = [[0,-.066],[20,-.09],[43,-.1],[70,-.09],[100,-.055],[140,0],[175,.04],[210,.065],[254,.073],[280,.05],[311,0],[340,-.055],[365,-.09],[387,-.1],[415,-.09],[445,-.055],[490,0],[520,.04],[555,.065],[588,.073],[620,.05],[654,0],[685,-.06],[712,-.1],[740,-.09],[770,-.055],[821,0],[855,.04],[890,.065],[920,.073],[948,.05],[975,0],[1005,-.055],[1041,-.1],[1070,-.09],[1100,-.055],[1146,0],[1180,.04],[1215,.065],[1252,.073]];
const P9_BLUE = [[0,-.066],[20,-.088],[43,-.097],[70,-.088],[100,-.055],[140,0],[175,.04],[210,.065],[254,.073],[280,.05],[311,0],[340,-.055],[365,-.088],[387,-.097],[415,-.088],[445,-.055],[490,0],[520,.04],[555,.065],[588,.073],[620,.05],[654,0],[685,-.06],[712,-.097],[740,-.088],[770,-.055],[821,0],[855,.04],[890,.065],[920,.073],[948,.05],[975,0],[1005,-.055],[1041,-.097],[1070,-.088],[1100,-.055],[1146,0],[1180,.04],[1215,.065],[1252,.073]];
const P9_GREEN = [[0,-.002],[100,0],[200,.003],[300,0],[400,-.004],[500,.002],[600,.003],[700,-.003],[800,.002],[900,.003],[1000,-.002],[1100,0],[1200,.003],[1258,.002]];
const P9_DOTS = [
[50,-.17,-.14,-.11,-.08],[62,-.16,-.13,-.1,-.07,-.04],[75,-.15,-.12,-.09,-.06,.11],[88,-.14,-.11,-.08,-.05,-.02],
[100,-.13,-.1,-.07,-.04,-.01],[112,-.12,-.09,-.06,-.03,0],[125,-.1,-.07,-.04,-.01,.02],[137,-.08,-.05,-.02,.01,.04],
[150,-.06,-.03,0,.03,.05],[162,-.05,-.02,.01,.04,.06],[175,-.03,0,.03,.05,.08],[187,-.02,.01,.04,.06,.09],
[200,0,.03,.05,.08,-.16],[212,.01,.04,.06,.09,.11],[225,.02,.05,.07,.1,.12],[237,.03,.06,.08,.1,.12],
[250,.03,.06,.09,.11,-.17],[262,.02,.05,.08,.1,.12],[275,0,.03,.06,.09,.11],[287,-.03,0,.03,.06,.08],
[300,-.05,-.02,.01,.04],[312,-.08,-.05,-.02,.01],[325,-.1,-.07,-.04,-.01],[337,-.12,-.09,-.06,-.03],
[350,-.14,-.11,-.08,-.05],[362,-.15,-.12,-.09,-.06],[375,-.16,-.13,-.1,-.07,.12],[387,-.17,-.14,-.11,-.08],
[400,-.16,-.13,-.1,-.07],[412,-.15,-.12,-.09,-.06],[425,-.14,-.11,-.08,-.05],[437,-.12,-.09,-.06,-.03],
[450,-.1,-.07,-.04,-.01],[462,-.07,-.04,-.01],[475,-.05,-.02,.01],[487,-.02,.01,.04],[500,0,.03,.06],
[512,.02,.05,.08],[525,.04,.07,.1],[537,.05,.08,.11],[550,.06,.09,.12],[562,.07,.1,.13],[575,.07,.1,.13],
[587,.06,.09,.12,.14],[600,.05,.08,.11],[612,.03,.06,.09,.15],[625,0,.03,.06],[637,-.03,0,.03],[650,-.06,-.03,0],
[662,-.09,-.06,-.03],[675,-.12,-.09,-.06,-.15],[687,-.13,-.1,-.07],[700,-.15,-.12,-.09],[712,-.16,-.13,-.1],
[725,-.18,-.14,-.11,.08,.12],
[1030,-.17,-.14,-.11,-.08,.02,.05,.15],[1042,-.16,-.13,-.1,-.07],[1055,-.15,-.12,-.09,-.06,.1],
[1067,-.14,-.11,-.08,-.05],[1080,-.12,-.09,-.06,-.03],[1092,-.11,-.08,-.05,-.02,.16],[1105,-.09,-.06,-.03,0],
[1117,-.08,-.05,-.02,.01],[1130,-.06,-.03,0,.03,.14],[1142,-.04,-.01,.02,.05],[1155,-.03,0,.03,.06],
[1167,-.01,.02,.05,.08,.15,-.17],[1180,0,.03,.06,.08],[1192,.01,.04,.07,.09],[1205,.02,.05,.07,.14],[1215,.03,.06]
];

// ---------- axis settings per panel ----------
const Y_MIN = [-0.548, -0.6, -1, -1.4, -0.4, -0.7, -0.295, -0.15, -0.3];
const Y_MAX = [0.557, 0.657, 1.214, 1.7, 0.451, 0.7, 0.55, 0.15, 0.352];
const Y_STEP = [0.2, 0.2, 0.5, 1, 0.2, 0.5, 0.2, 0.1, 0.2];
const Y_MINOR = [4, 4, 5, 5, 4, 5, 4, 5, 4];
const X_MIN = -62.5;
const X_MAX = 1312.5;
const X_STEP = 500;

const DOTS = [P1_DOTS, P2_DOTS, P3_DOTS, P4_DOTS, P5_DOTS, P6_DOTS, P7_DOTS, P8_DOTS, P9_DOTS];
const REDS = [P1_RED, P2_RED, P3_RED, P4_RED, P5_RED, P6_RED, P7_RED, P8_RED, P9_RED];
const BLUES = [P1_BLUE, P2_BLUE, P3_BLUE, P4_BLUE, P5_BLUE, P6_BLUE, P7_BLUE, P8_BLUE, P9_BLUE];
const GREENS = [P1_GREEN, P2_GREEN, P3_GREEN, P4_GREEN, P5_GREEN, P6_GREEN, P7_GREEN, P8_GREEN, P9_GREEN];

// ---------- layout ----------
const COL_LEFT = [90, 339, 588];
const COL_W = [201, 200, 200];
const ROW_TOP = [-1, 233, 466];
const ROW_H = [234, 233, 233];
const NAME_Y = [24.5, 257.5, 490.5];
const AXC = "#1c1c1c";
const FONT = '"DejaVu Sans", "Noto Sans", sans-serif';

function expand(rows: number[][]): number[][] {
  const out: number[][] = [];
  for (const r of rows) for (let k = 1; k < r.length; k++) out.push([r[0], r[k]]);
  return out;
}

function fmt(v: number): string {
  let s = parseFloat(v.toFixed(4)).toString();
  if (s === "-0") s = "0";
  return s.replace("-", "\u2212");
}

function labelFormatter(step: number) {
  return (v: number) => {
    const q = v / step;
    return Math.abs(q - Math.round(q)) < 1e-6 ? fmt(v) : "";
  };
}

function buildOption() {
  const grid: any[] = [];
  const xAxis: any[] = [];
  const yAxis: any[] = [];
  const series: any[] = [];
  const graphic: any[] = [];
  const lineStyle = { color: AXC, width: 1.8 };
  const tickStyle = { color: AXC, width: 1.2 };

  for (let i = 0; i < 9; i++) {
    const r = Math.floor(i / 3);
    const c = i % 3;
    grid.push({ left: COL_LEFT[c], top: ROW_TOP[r], width: COL_W[c], height: ROW_H[r], show: false, containLabel: false });
    for (const pos of ["bottom", "top"]) {
      xAxis.push({
        type: "value", gridIndex: i, position: pos, min: X_MIN, max: X_MAX,
        splitNumber: 3, minInterval: X_STEP, maxInterval: X_STEP,
        axisLine: { show: true, onZero: false, lineStyle },
        axisTick: { show: true, inside: true, length: 8, lineStyle: tickStyle },
        minorTick: { show: true, splitNumber: 5, length: 4, lineStyle: tickStyle },
        splitLine: { show: false }, minorSplitLine: { show: false },
        axisLabel: {
          show: pos === "bottom" && r === 2, margin: 7, color: "#000", fontSize: 12, fontFamily: FONT,
          formatter: labelFormatter(X_STEP),
        },
      });
    }
    for (const pos of ["left", "right"]) {
      yAxis.push({
        type: "value", gridIndex: i, position: pos, min: Y_MIN[i], max: Y_MAX[i],
        splitNumber: 4, minInterval: Y_STEP[i], maxInterval: Y_STEP[i],
        axisLine: { show: true, onZero: false, lineStyle },
        axisTick: { show: true, inside: true, length: 8, lineStyle: tickStyle },
        minorTick: { show: true, splitNumber: Y_MINOR[i], length: 4, lineStyle: tickStyle },
        splitLine: { show: false }, minorSplitLine: { show: false },
        axisLabel: {
          show: pos === "left", margin: 8, color: "#000", fontSize: 12, fontFamily: FONT,
          formatter: labelFormatter(Y_STEP[i]),
        },
      });
    }
    const xi = i * 2;
    const yi = i * 2;
    series.push({
      type: "scatter", xAxisIndex: xi, yAxisIndex: yi, data: expand(DOTS[i]),
      symbol: "circle", symbolSize: 3.4, itemStyle: { color: "#000", opacity: 1 }, silent: true, z: 2,
    });
    const curves: [number[][], string][] = [[GREENS[i], "#00ff00"], [BLUES[i], "#0000ff"], [REDS[i], "#ff0000"]];
    curves.forEach(([data, color], k) => {
      series.push({
        type: "line", xAxisIndex: xi, yAxisIndex: yi, data, showSymbol: false, symbol: "none",
        smooth: 0.4, lineStyle: { color, width: 1.6 }, silent: true, z: 3 + k,
      });
    });
    graphic.push({
      type: "text", x: COL_LEFT[c] + 21, y: NAME_Y[r], silent: true,
      style: { text: NAMES[i], font: `12.4px ${FONT}`, fill: "#000", textAlign: "left", textVerticalAlign: "middle" },
    });
  }
  graphic.push({
    type: "text", x: 440, y: 751, silent: true,
    style: { text: X_TITLE, font: `20px ${FONT}`, fill: "#000", textAlign: "center", textVerticalAlign: "middle" },
  });
  graphic.push({
    type: "text", x: 12, y: 350, rotation: Math.PI / 2, silent: true,
    style: { text: Y_TITLE, font: `20px ${FONT}`, fill: "#000", textAlign: "center", textVerticalAlign: "middle" },
  });

  return { animation: false, backgroundColor: "#fff", grid, xAxis, yAxis, series, graphic, tooltip: { show: false } };
}

export default function App() {
  const ref = useRef<HTMLDivElement>(null);
  useEffect(() => {
    document.body.style.margin = "0";
    if (!ref.current) return;
    const chart = echarts.init(ref.current, null, { renderer: "svg" });
    chart.setOption(buildOption() as any);
    return () => chart.dispose();
  }, []);
  return <div ref={ref} style={{ position: "relative", width: 789, height: 764, background: "#fff" }} />;
}
